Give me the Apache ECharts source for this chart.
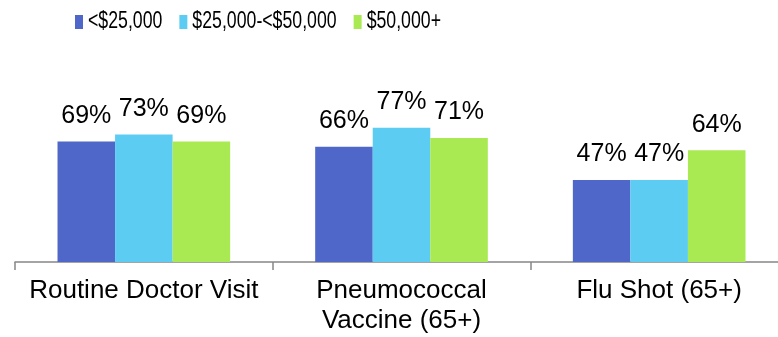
<!DOCTYPE html>
<html>
<head>
<meta charset="utf-8">
<script src="https://cdn.jsdelivr.net/npm/echarts@6/dist/echarts.min.js"></script>
<style>
  html, body { margin: 0; padding: 0; background: #ffffff; overflow: hidden; width: 778px; height: 337px; }
  /* the plot runs a little past the right edge, so the canvas is wider than the page */
  #chart { width: 788px; height: 337px; }
</style>
</head>
<body>
<div id="chart"></div>
<script>
// Share of respondents receiving each service, by household income
const categories = ['Routine Doctor Visit', 'Pneumococcal\nVaccine (65+)', 'Flu Shot (65+)'];
const seriesNames = ['<$25,000', '$25,000-<$50,000', '$50,000+'];
const lowIncome = [69, 66, 47];
const midIncome = [73, 77, 47];
const highIncome = [69, 71, 64];
const seriesColors = ['#4F67C8', '#5DCCF3', '#A9EA53'];

const valueSets = [lowIncome, midIncome, highIncome];

const chart = echarts.init(document.getElementById('chart'), null, { renderer: 'canvas' });

const labelFont = 'Liberation Sans, Arial, sans-serif';

// Condensed legend row: swatch + horizontally squeezed label per series
const legendFontSize = 23;
const legendSqueeze = 0.77;
const legendFont = legendFontSize + 'px "Liberation Sans", Arial, sans-serif';
const measureCtx = document.createElement('canvas').getContext('2d');
measureCtx.font = legendFont;
const legendItems = [];
let cursorX = 75;
seriesNames.forEach((name, i) => {
  legendItems.push({
    type: 'rect',
    shape: { x: cursorX, y: 15, width: 8, height: 14 },
    style: { fill: seriesColors[i] },
    silent: true
  });
  const textX = cursorX + 13;
  legendItems.push({
    type: 'text',
    x: textX,
    y: 21.5,
    scaleX: legendSqueeze,
    style: {
      text: name,
      font: legendFont,
      fontSize: legendFontSize,
      fill: '#000000',
      verticalAlign: 'middle',
      align: 'left'
    },
    silent: true
  });
  cursorX = textX + measureCtx.measureText(name).width * legendSqueeze + 17;
});

chart.setOption({
  animation: false,
  backgroundColor: '#ffffff',
  legend: { show: false, data: seriesNames },
  graphic: legendItems,
  grid: {
    left: 15,
    right: 0,
    top: 87.5,
    bottom: 75,
    containLabel: false
  },
  xAxis: {
    type: 'category',
    data: categories,
    boundaryGap: true,
    axisLine: { show: true, lineStyle: { color: '#868686', width: 1.5 } },
    axisTick: { show: true, length: 8, lineStyle: { color: '#868686', width: 1.5 } },
    axisLabel: {
      margin: 14,
      fontFamily: labelFont,
      fontSize: 26,
      lineHeight: 30,
      color: '#000000',
      interval: 0
    }
  },
  yAxis: {
    type: 'value',
    min: 0,
    max: 100,
    show: false,
    splitLine: { show: false }
  },
  series: valueSets.map((vals, i) => ({
    name: seriesNames[i],
    type: 'bar',
    data: vals,
    barGap: '0%',
    barCategoryGap: '33%',
    itemStyle: { color: seriesColors[i] },
    label: {
      show: true,
      position: 'top',
      distance: 13,
      formatter: '{c}%',
      fontFamily: labelFont,
      fontSize: 25,
      color: '#000000'
    }
  }))
});
</script>
</body>
</html>
